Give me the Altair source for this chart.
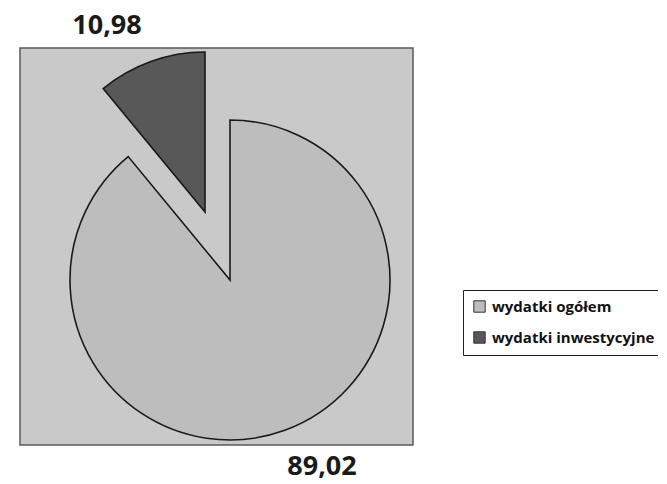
import altair as alt
import pandas as pd

categories = ["wydatki ogółem", "wydatki inwestycyjne"]
values = [89.02, 10.98]
labels = ["89,02", "10,98"]
colors = ["#bdbdbd", "#585858"]

df = pd.DataFrame({"kategoria": categories, "wartosc": values,
                   "etykieta": labels, "kolejnosc": [0, 1]})

R = 160

base = alt.Chart(df).encode(
    theta=alt.Theta("wartosc:Q", stack=True),
    order=alt.Order("kolejnosc:Q"),
    color=alt.Color(
        "kategoria:N",
        scale=alt.Scale(domain=categories, range=colors),
        sort=categories,
        legend=alt.Legend(
            title=None, orient="none", legendX=443, legendY=242,
            strokeColor="#222", padding=9, symbolType="square",
            symbolSize=130, symbolStrokeColor="#333", symbolStrokeWidth=1,
            labelFont="Open Sans", labelFontWeight="bold", labelFontSize=15,
            labelColor="#111", rowPadding=14, labelOffset=5, labelLimit=300,
        ),
    ),
)

main = base.mark_arc(outerRadius=R, stroke="#1a1a1a", strokeWidth=1.6).encode(
    x=alt.value(210), y=alt.value(232),
    opacity=alt.when(alt.datum.kategoria == categories[0]).then(alt.value(1)).otherwise(alt.value(0)),
)
expl = base.mark_arc(outerRadius=R, stroke="#1a1a1a", strokeWidth=1.6).encode(
    x=alt.value(185), y=alt.value(164),
    opacity=alt.when(alt.datum.kategoria == categories[1]).then(alt.value(1)).otherwise(alt.value(0)),
)

txt = alt.Chart(df).mark_text(font="Open Sans", fontWeight="bold", fontSize=27,
                              color="#1a1a1a")
lab_small = txt.transform_filter(alt.datum.kategoria == categories[1]).encode(
    text="etykieta:N", x=alt.value(87), y=alt.value(-22))
lab_big = txt.transform_filter(alt.datum.kategoria == categories[0]).encode(
    text="etykieta:N", x=alt.value(302), y=alt.value(419))

chart = alt.layer(main, expl, lab_small, lab_big).properties(
    width=393, height=397,
    padding={"left": 12, "top": 40, "right": 245, "bottom": 36},
    autosize=alt.AutoSizeParams(type="none"),
    background="white",
).configure_view(fill="#c9c9c9", stroke="#5a5a5a", strokeWidth=1.5)

chart.save("out.html", embed_options={"renderer": "svg", "actions": False})
